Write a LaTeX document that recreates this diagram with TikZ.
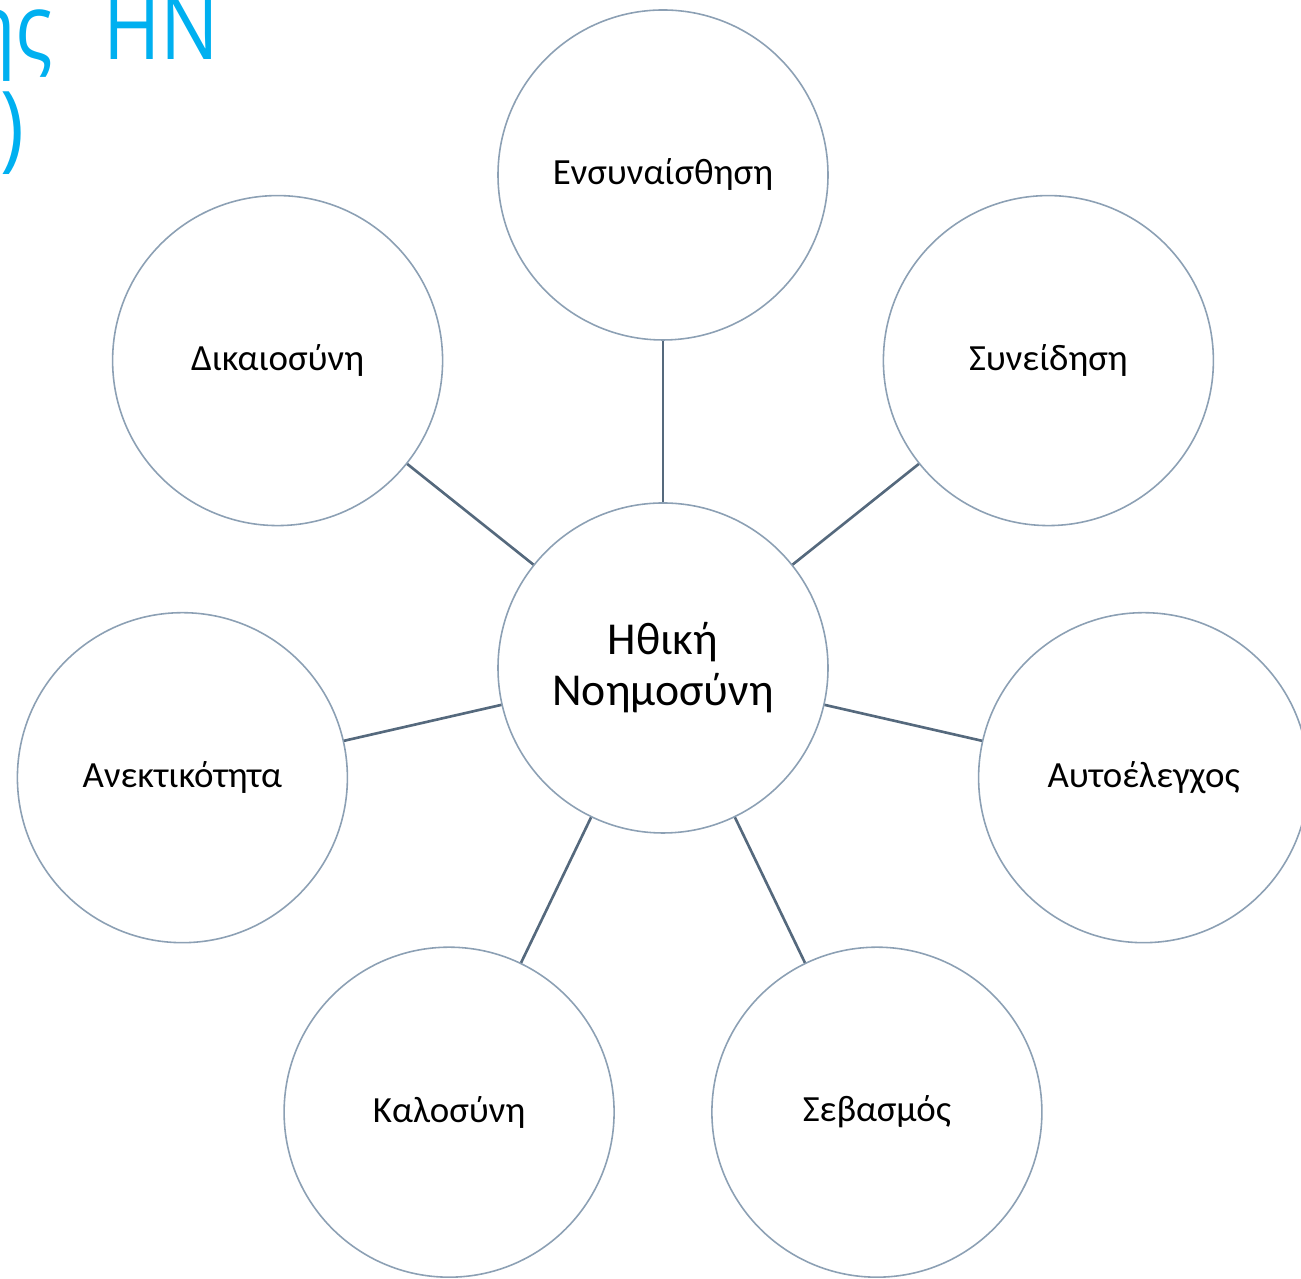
\documentclass[tikz,border=0pt]{standalone}
\usepackage{fontspec}
\setmainfont{Carlito}
\newfontfamily\handfont[FakeStretch=0.85]{Open Sans}
\usepackage{tikz}
\usetikzlibrary{positioning}
\usepackage{xcolor}
\definecolor{ringgray}{RGB}{140,160,180}
\definecolor{linkgray}{RGB}{85,105,125}
\definecolor{notecyan}{RGB}{0,176,240}

\begin{document}
\begin{tikzpicture}[
  virtue/.style={circle, draw=ringgray, line width=0.45pt, fill=white, minimum size=3.3cm, inner sep=0pt, font=\fontsize{10.5pt}{13pt}\selectfont},
  hubnode/.style={virtue, font=\fontsize{13pt}{14.5pt}\selectfont, align=center},
  link/.style={draw=linkgray, line width=0.75pt}
]

\useasboundingbox (0,0) rectangle (13.01,12.79);

% handwritten note, cut by the page edge
\node[anchor=base east, text=notecyan, inner sep=0pt] (notetop) at (2.20,12.19) {\handfont\fontsize{26pt}{30pt}\selectfont ης\hspace{0.3cm} HN};
\node[anchor=base east, text=notecyan, inner sep=0pt] (notebot) at (0.25,11.19) {\handfont\fontsize{27pt}{30pt}\selectfont )};

% the seven circles round the hub
\node[hubnode] (hub) at (6.63,6.11) {Ηθική\\Νοημοσύνη};

\node[virtue] (empathy) at (6.63,11.04) {Ενσυναίσθηση};
\node[virtue] (justice) at (2.776,9.184) {Δικαιοσύνη};
\node[virtue] (tolerance) at (1.824,5.013) {Ανεκτικότητα};
\node[virtue] (kindness) at (4.491,1.668) {Καλοσύνη};
\node[virtue] (respect) at (8.769,1.668) {Σεβασμός};
\node[virtue] (selfcontrol) at (11.436,5.013) {Αυτοέλεγχος};
\node[virtue] (conscience) at (10.484,9.184) {Συνείδηση};

\draw[link] (hub) -- (empathy);
\draw[link] (hub) -- (justice);
\draw[link] (hub) -- (tolerance);
\draw[link] (hub) -- (kindness);
\draw[link] (hub) -- (respect);
\draw[link] (hub) -- (selfcontrol);
\draw[link] (hub) -- (conscience);

\end{tikzpicture}
\end{document}
